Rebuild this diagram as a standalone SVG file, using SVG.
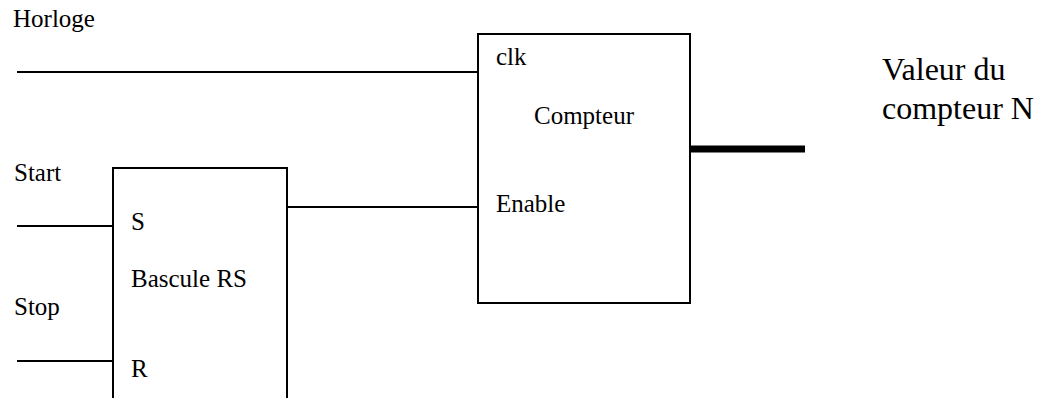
<svg xmlns="http://www.w3.org/2000/svg" width="1043" height="398" viewBox="0 0 1043 398">
<style>
.t{font-family:"Liberation Serif","Times New Roman",serif;font-size:25px;fill:#000}
.big{font-size:32px}
.box{fill:#fff;stroke:#000;stroke-width:2}
.w{stroke:#000;stroke-width:2;fill:none}
.bus{stroke:#000;stroke-width:7;fill:none}
</style>
<rect width="1043" height="398" fill="#fff"/>
<g id="labels">
<text class="t" x="13" y="27">Horloge</text>
<text class="t" x="14" y="181">Start</text>
<text class="t" x="14" y="315">Stop</text>
<text class="t big" x="882" y="80">Valeur du</text>
<text class="t big" x="882" y="119">compteur N</text>
</g>
<g id="connectors">
<line class="w" x1="17" y1="72" x2="478" y2="72"/>
<line class="w" x1="287" y1="207" x2="478" y2="207"/>
<line class="w" x1="17" y1="226" x2="113" y2="226"/>
<line class="w" x1="17" y1="361" x2="113" y2="361"/>
<line class="bus" x1="690" y1="149" x2="805" y2="149"/>
</g>
<g id="compteur">
<rect class="box" x="478" y="34" width="212" height="269"/>
<text class="t" x="496" y="65">clk</text>
<text class="t" x="534" y="124">Compteur</text>
<text class="t" x="496" y="212">Enable</text>
</g>
<g id="bascule">
<rect class="box" x="113" y="168" width="174" height="240"/>
<text class="t" x="131" y="230">S</text>
<text class="t" x="131" y="287">Bascule RS</text>
<text class="t" x="131" y="377">R</text>
</g>
</svg>
